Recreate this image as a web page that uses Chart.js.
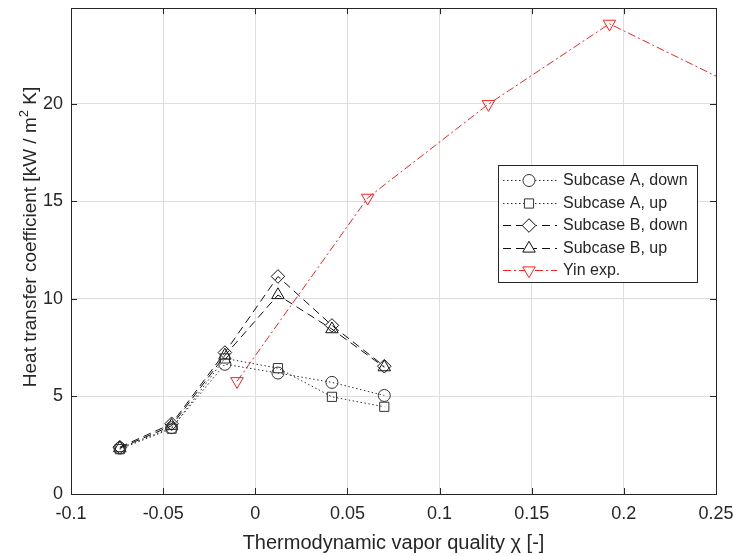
<!DOCTYPE html>
<html>
<head>
<meta charset="utf-8">
<script src="https://cdn.jsdelivr.net/npm/chart.js@4.4.0/dist/chart.umd.min.js"></script>
<style>
  html, body { margin: 0; padding: 0; background: #ffffff; }
  #wrap { width: 733px; height: 556px; }
</style>
</head>
<body>
<div id="wrap"><canvas id="c" width="733" height="556"></canvas></div>
<script>
// ---- data ----
const qualityA = [-0.0735, -0.0454, -0.0165, 0.0123, 0.0416, 0.0700];
const subcaseADown = [2.35, 3.4, 6.65, 6.2, 5.72, 5.05];
const subcaseAUp = [2.3, 3.35, 6.95, 6.45, 4.98, 4.47];
const subcaseBDown = [2.4, 3.6, 7.25, 11.15, 8.64, 6.55];
const subcaseBUp = [2.35, 3.5, 7.1, 10.2, 8.45, 6.5];
const yinQuality = [-0.0099, 0.061, 0.1265, 0.1922, 0.30];
const yinHTC = [5.78, 15.18, 19.98, 24.1, 19.1];
const seriesLabels = ['Subcase A, down', 'Subcase A, up', 'Subcase B, down', 'Subcase B, up', 'Yin exp.'];
const xTickStep = 0.05;
const yTickStep = 5;
const xTitle = 'Thermodynamic vapor quality \u03C7 [-]';
const yTitleMain = 'Heat transfer coefficient [kW / m';
const yTitleSup = '2';
const yTitleEnd = ' K]';

const FONT = '"Liberation Sans", Arial, Helvetica, sans-serif';
const TEXT = '#262626';

function pts(xs, ys) { return xs.map((x, i) => ({ x: x, y: ys[i] })); }

function series(label, data, color, dash, style, radius, rot) {
  return {
    label: label, data: data, showLine: true, fill: false, tension: 0,
    borderColor: color, borderWidth: 1, borderDash: dash,
    pointStyle: style, pointRadius: radius, pointHoverRadius: radius,
    pointRotation: rot || 0,
    pointBorderColor: color, pointBackgroundColor: 'rgba(0,0,0,0)', pointBorderWidth: 1
  };
}

const datasets = [
  series(seriesLabels[0], pts(qualityA, subcaseADown), '#333333', [1.5, 2.5], 'circle', 6),
  series(seriesLabels[1], pts(qualityA, subcaseAUp), '#333333', [1.5, 2.5], 'rect', 6.5),
  series(seriesLabels[2], pts(qualityA, subcaseBDown), '#111111', [8, 5], 'rectRot', 6.8),
  series(seriesLabels[3], pts(qualityA, subcaseBUp), '#111111', [8, 5], 'triangle', 7.2),
  series(seriesLabels[4], pts(yinQuality, yinHTC), '#ff2020', [8, 3, 2, 3], 'triangle', 7.2, 180)
];

const frame = {
  id: 'frame',
  afterDraw(chart) {
    const ctx = chart.ctx, a = chart.chartArea;
    const xs = chart.scales.x, ys = chart.scales.y;
    ctx.save();
    ctx.strokeStyle = TEXT; ctx.lineWidth = 1; ctx.setLineDash([]);
    ctx.strokeRect(Math.round(a.left) + 0.5, Math.round(a.top) + 0.5,
                   Math.round(a.right - a.left), Math.round(a.bottom - a.top));
    const L = 6;
    ctx.beginPath();
    xs.ticks.forEach(t => {
      const px = Math.round(xs.getPixelForValue(t.value)) + 0.5;
      ctx.moveTo(px, a.bottom); ctx.lineTo(px, a.bottom - L);
      ctx.moveTo(px, a.top); ctx.lineTo(px, a.top + L);
    });
    ys.ticks.forEach(t => {
      const py = Math.round(ys.getPixelForValue(t.value)) + 0.5;
      ctx.moveTo(a.left, py); ctx.lineTo(a.left + L, py);
      ctx.moveTo(a.right, py); ctx.lineTo(a.right - L, py);
    });
    ctx.stroke();
    // y axis title with superscript
    const fs = 19;
    ctx.translate(31, 237);
    ctx.rotate(-Math.PI / 2);
    ctx.fillStyle = TEXT;
    ctx.textBaseline = 'middle';
    ctx.font = fs + 'px ' + FONT;
    const w1 = ctx.measureText(yTitleMain).width;
    ctx.font = Math.round(fs * 0.7) + 'px ' + FONT;
    const w2 = ctx.measureText(yTitleSup).width;
    ctx.font = fs + 'px ' + FONT;
    const w3 = ctx.measureText(yTitleEnd).width;
    const total = w1 + w2 + w3;
    let x0 = -total / 2;
    ctx.textAlign = 'left';
    ctx.fillText(yTitleMain, x0, 0);
    ctx.font = Math.round(fs * 0.7) + 'px ' + FONT;
    ctx.fillText(yTitleSup, x0 + w1, -7);
    ctx.font = fs + 'px ' + FONT;
    ctx.fillText(yTitleEnd, x0 + w1 + w2, 0);
    ctx.restore();
  }
};

const legendBox = {
  id: 'legendBox',
  afterDraw(chart) {
    const ctx = chart.ctx;
    const bx = 498, by = 165, bw = 199, bh = 117;
    ctx.save();
    ctx.fillStyle = '#ffffff';
    ctx.fillRect(bx, by, bw, bh);
    ctx.strokeStyle = TEXT; ctx.lineWidth = 1;
    ctx.strokeRect(bx + 0.5, by + 0.5, bw, bh);
    chart.data.datasets.forEach((ds, i) => {
      const cy = Math.round(by + 15 + i * 22.5) + 0.5;
      ctx.beginPath();
      ctx.setLineDash(ds.borderDash);
      ctx.strokeStyle = ds.borderColor; ctx.lineWidth = 1;
      ctx.moveTo(bx + 5, cy); ctx.lineTo(bx + 59, cy);
      ctx.stroke();
      ctx.setLineDash([]);
      ctx.fillStyle = '#ffffff';
      ctx.strokeStyle = ds.borderColor;
      ctx.lineWidth = 1;
      Chart.helpers.drawPoint(ctx, { pointStyle: ds.pointStyle, radius: ds.pointRadius, rotation: ds.pointRotation, borderWidth: 1 }, bx + 31, cy);
      ctx.fillStyle = TEXT;
      ctx.font = '16px ' + FONT;
      ctx.textAlign = 'left'; ctx.textBaseline = 'middle';
      ctx.fillText(ds.label, bx + 65, cy);
    });
    ctx.restore();
  }
};

function fmt(v) {
  const n = Number(Number(v).toFixed(3));
  return String(n === 0 ? 0 : n);
}

new Chart(document.getElementById('c'), {
  type: 'scatter',
  data: { datasets: datasets },
  options: {
    responsive: false,
    animation: false,
    devicePixelRatio: 1,
    layout: { padding: { left: 0, right: 17, top: 8, bottom: 0 } },
    plugins: { legend: { display: false }, tooltip: { enabled: false } },
    scales: {
      x: {
        type: 'linear', min: -0.1, max: 0.25,
        afterFit(s) { s.height = 62; s.paddingLeft = 0; s.paddingRight = 0; },
        border: { display: false },
        grid: { color: '#dedede', lineWidth: 1, drawTicks: false },
        ticks: { stepSize: xTickStep, padding: 9, color: TEXT, font: { family: FONT, size: 18 }, maxRotation: 0, autoSkip: false, callback: v => fmt(v) },
        title: { display: true, text: xTitle, color: TEXT, font: { family: FONT, size: 20, lineHeight: 1 }, padding: { top: 0, bottom: 3 } }
      },
      y: {
        type: 'linear', min: 0, max: 24.9,
        afterFit(s) { s.width = 71; s.paddingTop = 0; s.paddingBottom = 0; },
        border: { display: false },
        grid: { color: '#dedede', lineWidth: 1, drawTicks: false },
        ticks: { stepSize: yTickStep, includeBounds: false, padding: 8, color: TEXT, font: { family: FONT, size: 18 }, callback: v => fmt(v) },
        title: { display: false }
      }
    }
  },
  plugins: [frame, legendBox]
});
</script>
</body>
</html>
